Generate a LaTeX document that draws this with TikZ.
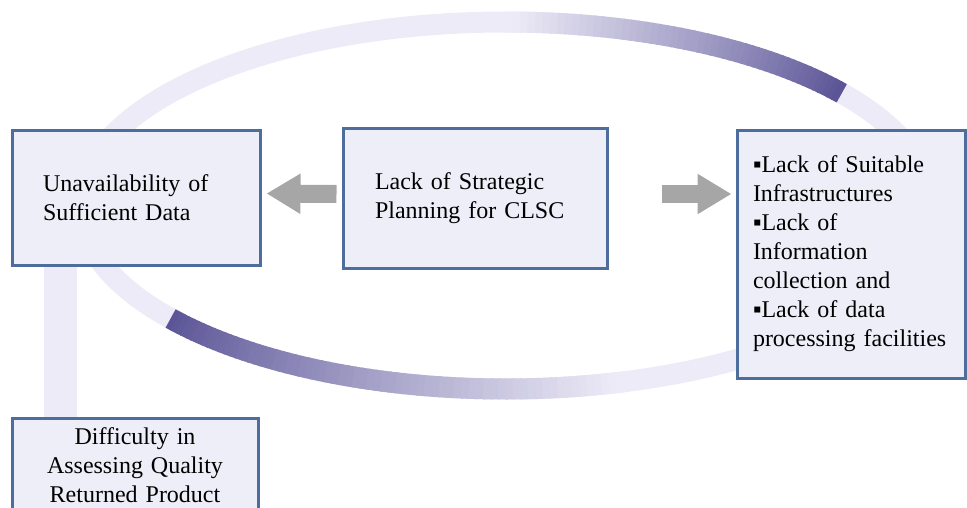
\documentclass[tikz,border=0pt]{standalone}
\usepackage{fontspec}
\setmainfont{Liberation Serif}
\usetikzlibrary{arrows.meta,backgrounds}
\definecolor{bandlight}{HTML}{EDEBF7}
\definecolor{banddark}{HTML}{5B5597}
\definecolor{boxfill}{HTML}{EEEEF8}
\definecolor{boxline}{HTML}{4D6D9C}
\definecolor{arrowgray}{HTML}{A6A6A6}
\tikzset{
  box/.style={draw=boxline, fill=boxfill, line width=3pt, inner sep=0pt,
    font=\fontsize{24}{29}\selectfont},
  band/.style={line width=21pt, bandlight},
  flow/.style={line width=18pt, arrowgray, -{Triangle[length=34pt,width=38pt]}},
}
\begin{document}
\begin{tikzpicture}[x=1pt,y=1pt]
  \useasboundingbox (0,0) rectangle (967,-507);
  \node[box, minimum width=248pt, minimum height=135pt, text width=186pt, align=left]
    (data) at (136,-197.5) {Unavailability of\\Sufficient Data};
  \node[box, minimum width=264pt, minimum height=140pt, text width=200pt, align=left]
    (plan) at (475,-198) {Lack of Strategic\\Planning for CLSC};
  \node[box, minimum width=228pt, minimum height=248pt, text width=196pt, align=left]
    (infra) at (851,-254) {▪Lack of Suitable\\Infrastructures\\▪Lack of\\Information\\collection and\\▪Lack of data\\processing facilities};
  \node[box, minimum width=246pt, minimum height=94pt, text width=240pt, align=center]
    (quality) at (135,-465) {Difficulty in\\Assessing Quality\\Returned Product};
  \begin{scope}[on background layer]
    \draw[band] (505.5,-205.5) ellipse [x radius=425, y radius=183.5];
    \foreach \a in {90,...,39} {
      \pgfmathtruncatemacro\p{(90-\a)*100/51}
      \draw[band, banddark!\p!bandlight] ({505.5+425*cos(\a)},{-205.5+183.5*sin(\a)})
        arc [start angle=\a, end angle=\a-1.3, x radius=425, y radius=183.5];
    }
    \foreach \a in {218,...,285} {
      \pgfmathtruncatemacro\p{(285-\a)*100/67}
      \draw[band, banddark!\p!bandlight] ({505.5+425*cos(\a)},{-205.5+183.5*sin(\a)})
        arc [start angle=\a, end angle=\a+1.3, x radius=425, y radius=183.5];
    }
    \draw[line width=33pt, bandlight] ([xshift=49.5pt]quality.north west)
      -- ([xshift=49.5pt]data.south west);
  \end{scope}
  \draw[flow] ([xshift=-5pt,yshift=4pt]plan.west) -- ([xshift=5pt,yshift=4pt]data.east);
  \draw[flow] ([xshift=53pt,yshift=4pt]plan.east) -- ([xshift=-4pt,yshift=60pt]infra.west);
\end{tikzpicture}
\end{document}
